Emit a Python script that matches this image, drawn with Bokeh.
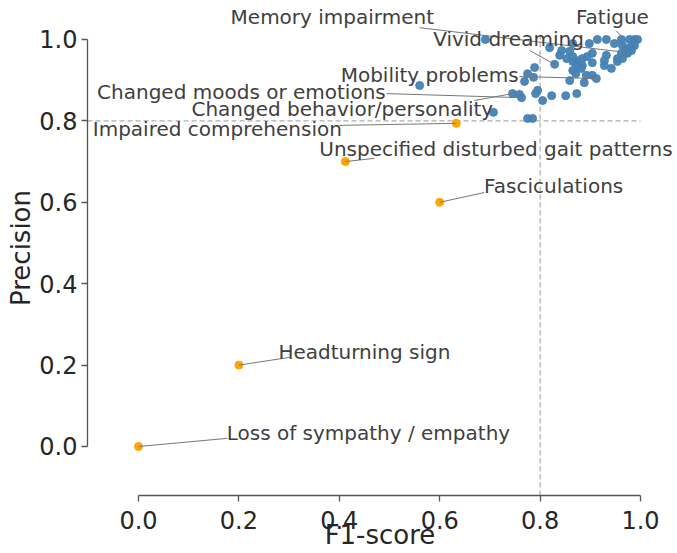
from bokeh.plotting import figure
from bokeh.models import Range1d, FixedTicker, PrintfTickFormatter, ColumnDataSource
from bokeh.embed import file_html
from bokeh.resources import INLINE
from bokeh.core.properties import value

# ---- data: symptoms with precision >= 0.8 (blue) ----
blue_f1 = [0.691, 0.819, 0.843, 0.859, 0.865, 0.898, 0.914, 0.932, 0.948, 0.962,
           0.978, 0.988, 0.994, 0.964, 0.988, 0.972, 0.982, 0.982, 0.972,
           0.829, 0.839, 0.853, 0.865, 0.873, 0.884, 0.894, 0.904, 0.904, 0.928,
           0.932, 0.928, 0.942, 0.954, 0.954, 0.962, 0.964, 0.974, 0.865, 0.873,
           0.884, 0.865, 0.882, 0.775, 0.789, 0.871,
           0.787, 0.769, 0.892, 0.904, 0.912, 0.888, 0.859, 0.851, 0.873, 0.795,
           0.791, 0.805, 0.823, 0.745, 0.759, 0.763,
           0.707, 0.775, 0.785, 0.560]
blue_prec = [1.000, 0.980, 0.973, 0.971, 0.990, 0.990, 1.000, 1.000, 0.990, 1.000,
             1.000, 1.000, 1.000, 0.985, 0.985, 0.978, 0.973, 0.983, 0.968,
             0.939, 0.961, 0.953, 0.958, 0.948, 0.953, 0.958, 0.966, 0.943, 0.948,
             0.961, 0.936, 0.929, 0.953, 0.946, 0.966, 0.953, 0.966, 0.946, 0.936,
             0.936, 0.924, 0.929, 0.916, 0.931, 0.916,
             0.907, 0.897, 0.912, 0.912, 0.904, 0.894, 0.899, 0.862, 0.867, 0.875,
             0.867, 0.850, 0.862, 0.867, 0.865, 0.857,
             0.821, 0.806, 0.806, 0.887]

# ---- data: symptoms with precision < 0.8 (orange) ----
orange_f1 = [0.633, 0.412, 0.600, 0.200, 0.000]
orange_prec = [0.794, 0.700, 0.600, 0.200, 0.000]

# ---- labelled symptoms ----
label_names = ["Fatigue", "Memory impairment", "Vivid dreaming", "Mobility problems",
               "Changed moods or emotions", "Changed behavior/personality",
               "Impaired comprehension", "Unspecified disturbed gait patterns",
               "Fasciculations", "Headturning sign", "Loss of sympathy / empathy"]
label_f1 = [0.982, 0.972, 0.829, 0.912, 0.763, 0.745, 0.633, 0.412, 0.600, 0.200, 0.000]
label_prec = [0.983, 0.968, 0.939, 0.904, 0.857, 0.867, 0.794, 0.700, 0.600, 0.200, 0.000]

# ---- layout: where each label text sits and where its leader line starts ----
text_x = [0.944, 0.386, 0.737, 0.580, 0.205, 0.406, 0.157, 0.712, 0.827, 0.450, 0.458]
text_y = [1.055, 1.055, 1.000, 0.912, 0.872, 0.830, 0.781, 0.732, 0.639, 0.233, 0.034]
lead_x = [0.951, 0.560, 0.779, 0.759, 0.494, 0.669, 0.400, 0.470, 0.689, 0.301, 0.177]
lead_y = [1.022, 1.029, 0.973, 0.909, 0.867, 0.850, 0.789, 0.708, 0.624, 0.219, 0.020]

thresholds = [0.8]
ticks = [0.0, 0.2, 0.4, 0.6, 0.8, 1.0]

FONT = "DejaVu Sans"
X_LO, X_HI = -0.1016, 1.0637
Y_LO, Y_HI = -0.1204, 1.0958

p = figure(width=672, height=553, output_backend="svg", toolbar_location=None,
           x_range=Range1d(X_LO, X_HI), y_range=Range1d(Y_LO, Y_HI),
           min_border_left=87, min_border_right=0, min_border_top=0, min_border_bottom=58)
p.outline_line_color = None
p.xgrid.visible = False
p.ygrid.visible = False
p.background_fill_color = "white"

# threshold dashed lines
p.segment(x0=[thresholds[0]], y0=[Y_LO], x1=[thresholds[0]], y1=[1.02],
          line_color="#999999", line_dash="5 3", line_width=1)
p.segment(x0=[X_LO], y0=[thresholds[0]], x1=[1.0], y1=[thresholds[0]],
          line_color="#999999", line_dash="5 3", line_width=1)

p.scatter(blue_f1, blue_prec, size=8, fill_color="#4682b4", line_color="#4682b4",
          fill_alpha=0.95, line_alpha=0.95)
p.scatter(orange_f1, orange_prec, size=8, fill_color="#ffa500", line_color="#ffa500")

lab = ColumnDataSource(dict(name=label_names, fx=label_f1, fy=label_prec,
                            tx=text_x, ty=text_y, lx=lead_x, ly=lead_y))
p.segment(x0="lx", y0="ly", x1="fx", y1="fy", source=lab, line_color="#777777", line_width=1)
p.text(x="tx", y="ty", text="name", source=lab, text_align="center", text_baseline="middle",
       text_font=value(FONT), text_font_size="20px", text_color="#404040")

for ax in (p.xaxis[0], p.yaxis[0]):
    ax.ticker = FixedTicker(ticks=ticks)
    ax.formatter = PrintfTickFormatter(format="%.1f")
    ax.bounds = (0, 1)
    ax.minor_tick_line_color = None
    ax.major_tick_in = 0
    ax.major_tick_out = 6
    ax.axis_line_color = "#555555"
    ax.axis_line_width = 1.3
    ax.major_tick_line_color = "#555555"
    ax.major_tick_line_width = 1.3
    ax.major_label_text_font = FONT
    ax.major_label_text_font_size = "24px"
    ax.major_label_text_color = "#262626"
    ax.axis_label_text_font = FONT
    ax.axis_label_text_font_size = "26px"
    ax.axis_label_text_font_style = "normal"
    ax.axis_label_text_color = "#262626"

p.xaxis.axis_label = "F1-score"
p.yaxis.axis_label = "Precision"
p.xaxis.major_label_standoff = 9
p.xaxis.axis_label_standoff = -12
p.yaxis.major_label_standoff = 4
p.yaxis.axis_label_standoff = 0

open("out.html", "w").write(file_html(p, INLINE))
